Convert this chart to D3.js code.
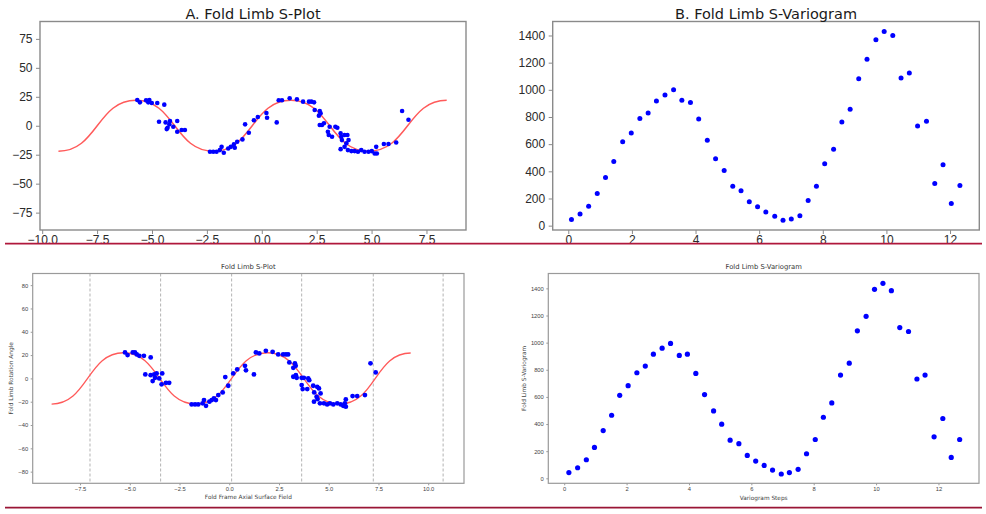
<!DOCTYPE html>
<html>
<head>
<meta charset="utf-8">
<script src="https://cdn.jsdelivr.net/npm/d3@7"></script>
<style>
  body { margin: 0; background: #fff; }
  svg { display: block; font-family: "DejaVu Sans", sans-serif; }
</style>
</head>
<body>
<div class="visHolder"></div>
<script>
// ---- data ----
// upper screenshot: S-plot points [axial field, rotation angle]
const splotPointsTop = [
  [-5.67,22.2],[-5.55,20.2],[-5.27,22],[-5.17,20.2],[-5.12,22.2],[-5.01,19.6],[-4.76,19.6],[-4.44,18.2],
  [-4.68,3.5],[-4.38,2.9],[-4.18,4.1],[-4.21,1.2],[-4.29,-1.7],[-4.33,-2.9],[-4.03,-0.9],[-3.85,4.1],
  [-3.85,-5.2],[-3.65,-3.7],[-3.5,-3.7],
  [-2.36,-22.5],[-2.21,-22.5],[-2.06,-22.5],[-1.91,-21],[-1.83,-18.2],[-1.73,-23.3],[-1.53,-19.6],
  [-1.41,-18.2],[-1.27,-16.1],[-1.23,-19],[-1.12,-13.8],[-0.88,-11.8],[-0.76,1.2],[-0.59,-6],[-0.36,4.7],
  [-0.18,7.5],[0.21,11],[0.24,6.9],[0.68,2.9],[0.77,22],[0.92,22],[1.27,23.7],[1.6,22.8],[1.88,20.8],
  [2.15,20.8],[2.26,20.8],[2.38,20.2],[2.41,13.6],[2.64,12.7],[2.68,10.7],[2.6,8.7],[2.74,0.6],[2.64,0.6],
  [2.83,2.1],[3.09,-0.9],[3.01,-5.2],[3.05,-8],[3.2,-9.5],[3.35,-0.9],[3.44,-1.7],[3.59,-6.6],[3.62,-9.5],
  [3.77,-8],[3.9,-8],[3.65,-12.4],[3.85,-15.2],[3.95,-12.4],[3.59,-20.2],[3.77,-18.2],[3.92,-21],
  [4.08,-21.9],[4.23,-21.9],[4.38,-22.5],[4.53,-21],[4.68,-22.5],[4.86,-22.5],[5.01,-21.9],[5.14,-23.9],
  [5.21,-18.2],[5.24,-23.9],[5.56,-15.8],[5.77,-15.8],[6.12,-14.4],[6.39,12.7],[6.68,5.2]
];
// fitted curve: troughs and crests of the upper S-plot
const curveTopX = [-9.26,-5.73,-2.2,1.33,4.86,8.42];
const curveTopY = [-22,22,-22,22,-22,22];

// lower screenshot: S-plot points
const splotPointsBottom = [
  [-5.24,22.3],[-5.11,20],[-4.85,22.3],[-4.74,22.3],[-4.65,20.6],[-4.52,19.4],[-4.29,19.4],[-3.95,18],
  [-4.22,3.4],[-3.95,2.8],[-3.77,3.4],[-3.65,4.3],[-3.73,0.5],[-3.85,-2.3],[-3.52,0],[-3.37,4.3],
  [-3.4,-5.1],[-3.18,-3.8],[-3.02,-3.8],
  [-1.89,-22.3],[-1.72,-22.3],[-1.56,-22.3],[-1.34,-21.4],[-1.27,-18.6],[-1.17,-23.5],[-1.0,-20],
  [-0.88,-18.6],[-0.77,-17.1],[-0.67,-18.6],[-0.55,-14.3],[-0.33,-12],[-0.2,1.1],[-0.05,-6.3],[0.2,4.3],
  [0.4,7.7],[0.79,10.8],[0.84,6.9],[1.24,3.4],[1.34,22.3],[1.51,21.4],[1.84,23.7],[2.18,22.8],[2.46,20.6],
  [2.71,20.6],[2.85,20.6],[2.96,20.6],[3.02,13.7],[3.3,12.9],[3.34,10.8],[3.22,9.1],[3.22,1.4],[3.39,0.5],
  [3.35,2.8],[3.64,0.5],[3.64,-5.7],[3.69,-9.2],[3.92,-9.2],[3.75,0.5],[3.97,0],[4.02,-1.5],[4.22,-6.3],
  [4.42,-7.2],[4.51,-8.6],[4.59,-12.9],[4.27,-12],[4.26,-20],[4.39,-15.8],[4.44,-17.7],[4.56,-21.4],
  [4.76,-21.4],[4.92,-22.3],[5.06,-21.4],[5.23,-22.3],[5.43,-21.4],[5.6,-22.3],[5.73,-23.5],[5.81,-21.4],
  [5.86,-24.3],[5.86,-18],[6.2,-15.2],[6.43,-15.2],[6.82,-14.3],[7.1,12.9],[7.36,5.1]
];
const curveBottomX = [-8.93,-5.31,-1.69,1.93,5.55,9.12];
const curveBottomY = [-22,22,-22,22,-22,21.8];
// wavelength markers on the lower S-plot
const foldMarkers = [-7.0,-3.45,0.12,3.64,7.24,10.75];

// variograms: lag step and semivariance
const lagsTop = [0.10,0.37,0.64,0.91,1.17,1.43,1.71,1.98,2.25,2.51,2.77,3.04,3.31,3.57,3.84,4.10,4.37,4.63,
  4.90,5.17,5.43,5.69,5.95,6.21,6.49,6.75,7.01,7.28,7.54,7.80,8.06,8.34,8.60,8.86,9.13,9.39,9.67,9.93,
  10.20,10.46,10.72,10.98,11.26,11.52,11.78,12.04,12.31];
const variogramTop = [46,86,142,237,355,472,617,683,788,830,918,962,1001,923,906,786,629,492,406,291,257,
  176,139,100,69,39,49,73,186,291,455,563,764,857,1082,1226,1368,1429,1400,1087,1123,734,768,311,448,164,296];
const lagsBottom = [0.15,0.43,0.71,0.97,1.25,1.52,1.78,2.05,2.33,2.60,2.86,3.14,3.41,3.69,3.95,4.22,4.50,
  4.79,5.05,5.32,5.60,5.87,6.14,6.41,6.68,6.96,7.22,7.50,7.77,8.05,8.31,8.58,8.86,9.14,9.40,9.68,9.95,
  10.22,10.49,10.76,11.04,11.31,11.57,11.86,12.14,12.41,12.68];
const variogramBottom = [42,78,137,228,352,465,612,683,778,827,915,959,994,906,915,773,617,497,399,281,255,
  169,127,95,61,32,42,66,181,286,450,556,761,849,1087,1194,1393,1437,1383,1111,1082,732,761,306,441,154,286];

const splotXTicksTop = [-10,-7.5,-5,-2.5,0,2.5,5,7.5];
const splotYTicksTop = [-75,-50,-25,0,25,50,75];
const splotXTicksBottom = [-7.5,-5,-2.5,0,2.5,5,7.5,10];
const splotYTicksBottom = [-80,-60,-40,-20,0,20,40,60,80];
const lagTicks = [0,2,4,6,8,10,12];
const variogramTicks = [0,200,400,600,800,1000,1200,1400];

// ---- drawing ----
const W = 986, H = 514;
const svg = d3.select('.visHolder').append('svg')
  .attr('width', W).attr('height', H);

const minus = s => s.replace('-', '\u2212');
const fmt1 = d => minus(d3.format('.1f')(d));
const fmt0 = d => minus(String(d));

function drawPanel(p) {
  const g = svg.append('g');
  const x = d3.scaleLinear().domain(p.xDomain).range([p.l, p.r]);
  const y = d3.scaleLinear().domain(p.yDomain).range([p.b, p.t]);

  const xAxis = d3.axisBottom(x).tickValues(p.xTicks).tickFormat(p.xFmt)
    .tickSize(p.tick).tickPadding(p.xPad).tickSizeOuter(0);
  const yAxis = d3.axisLeft(y).tickValues(p.yTicks).tickFormat(p.yFmt)
    .tickSize(p.tick).tickPadding(p.yPad).tickSizeOuter(0);

  [g.append('g').attr('transform', `translate(0,${p.b})`).call(xAxis),
   g.append('g').attr('transform', `translate(${p.l},0)`).call(yAxis)]
    .forEach(a => {
      a.select('.domain').remove();
      a.selectAll('line').attr('stroke', p.axisColor);
      a.selectAll('text').attr('fill', p.textColor)
        .style('font-size', p.fontSize + 'px');
    });

  if (p.markers) {
    g.selectAll('.marker').data(p.markers).enter()
      .append('line')
      .attr('x1', d => x(d)).attr('x2', d => x(d))
      .attr('y1', p.t).attr('y2', p.b)
      .attr('stroke', '#b3b3b3')
      .attr('stroke-width', 1)
      .attr('stroke-dasharray', '3,2');
  }

  if (p.curveX) {
    const pts = p.curveX.map((d, i) => [d, p.curveY[i]]);
    // crest-to-trough segments with flat tangents at every extremum
    g.append('path')
      .datum(pts)
      .attr('fill', 'none')
      .attr('stroke', '#ff5a5a')
      .attr('stroke-width', p.lineW)
      .attr('d', d3.line()
        .x(d => x(d[0]))
        .y(d => y(d[1]))
        .curve(d3.curveBumpX));
  }

  g.selectAll('.dot').data(p.points).enter()
    .append('circle')
    .attr('cx', d => x(d[0]))
    .attr('cy', d => y(d[1]))
    .attr('r', p.dotR)
    .attr('fill', '#0000ff');

  g.append('rect')
    .attr('x', p.l).attr('y', p.t)
    .attr('width', p.r - p.l).attr('height', p.b - p.t)
    .attr('fill', 'none')
    .attr('stroke', p.axisColor)
    .attr('stroke-width', p.frameW);

  g.append('text')
    .attr('x', (p.l + p.r) / 2).attr('y', p.titleY)
    .attr('text-anchor', 'middle')
    .attr('fill', p.titleColor)
    .style('font-size', p.titleSize + 'px')
    .text(p.title);

  if (p.xLabel) {
    g.append('text')
      .attr('x', (p.l + p.r) / 2).attr('y', p.xLabelY)
      .attr('text-anchor', 'middle')
      .attr('fill', p.textColor)
      .style('font-size', p.fontSize + 'px')
      .text(p.xLabel);
  }
  if (p.yLabel) {
    g.append('text')
      .attr('transform', `translate(${p.yLabelX},${(p.t + p.b) / 2}) rotate(-90)`)
      .attr('text-anchor', 'middle')
      .attr('fill', p.textColor)
      .style('font-size', p.fontSize + 'px')
      .text(p.yLabel);
  }
}

const bigStyle = { tick: 4, xPad: 1, yPad: 3.5, fontSize: 12, titleSize: 14.5, titleY: 18.5,
  axisColor: '#8a8a8a', textColor: '#2b2b2b', titleColor: '#1a1a1a', frameW: 1.4, dotR: 2.3, lineW: 1.5 };
const smallStyle = { tick: 2, xPad: 2, yPad: 2.5, fontSize: 5.8, titleSize: 6.8, titleY: 269.2,
  axisColor: '#9a9a9a', textColor: '#444', titleColor: '#333', frameW: 1.2, dotR: 2.4, lineW: 1.3 };

drawPanel(Object.assign({}, bigStyle, {
  l: 40, r: 466, t: 21.5, b: 230,
  xDomain: [-10.1, 9.3], yDomain: [-90, 90],
  xTicks: splotXTicksTop, yTicks: splotYTicksTop, xFmt: fmt1, yFmt: fmt0,
  points: splotPointsTop, curveX: curveTopX, curveY: curveTopY,
  title: 'A. Fold Limb S-Plot'
}));

drawPanel(Object.assign({}, bigStyle, {
  l: 552.7, r: 979.3, t: 21.5, b: 230,
  xDomain: [-0.49, 12.92], yDomain: [-32, 1503],
  xTicks: lagTicks, yTicks: variogramTicks, xFmt: fmt0, yFmt: fmt0,
  points: lagsTop.map((d, i) => [d, variogramTop[i]]), dotR: 2.5,
  title: 'B. Fold Limb S-Variogram'
}));

drawPanel(Object.assign({}, smallStyle, {
  l: 32.7, r: 464, t: 273.5, b: 483.3,
  xDomain: [-9.88, 11.8], yDomain: [-90, 90],
  xTicks: splotXTicksBottom, yTicks: splotYTicksBottom, xFmt: fmt1, yFmt: fmt0,
  points: splotPointsBottom, curveX: curveBottomX, curveY: curveBottomY, markers: foldMarkers,
  title: 'Fold Limb S-Plot',
  xLabel: 'Fold Frame Axial Surface Field', xLabelY: 499.3,
  yLabel: 'Fold Limb Rotation Angle', yLabelX: 13
}));

drawPanel(Object.assign({}, smallStyle, {
  l: 548.3, r: 979, t: 273.5, b: 483.3,
  xDomain: [-0.51, 13.3], yDomain: [-36.7, 1509.6],
  xTicks: lagTicks, yTicks: variogramTicks, xFmt: fmt0, yFmt: fmt0,
  points: lagsBottom.map((d, i) => [d, variogramBottom[i]]), dotR: 2.6,
  title: 'Fold Limb S-Variogram',
  xLabel: 'Variogram Steps', xLabelY: 500,
  yLabel: 'Fold Limb S-Variogram', yLabelX: 526
}));

// separators between the two screenshots
svg.append('line')
  .attr('x1', 5).attr('x2', 982).attr('y1', 243.6).attr('y2', 243.6)
  .attr('stroke', '#b0183c').attr('stroke-width', 1.6);
svg.append('line')
  .attr('x1', 5).attr('x2', 982).attr('y1', 507.6).attr('y2', 507.6)
  .attr('stroke', '#9a1636').attr('stroke-width', 1.6);
</script>
</body>
</html>
